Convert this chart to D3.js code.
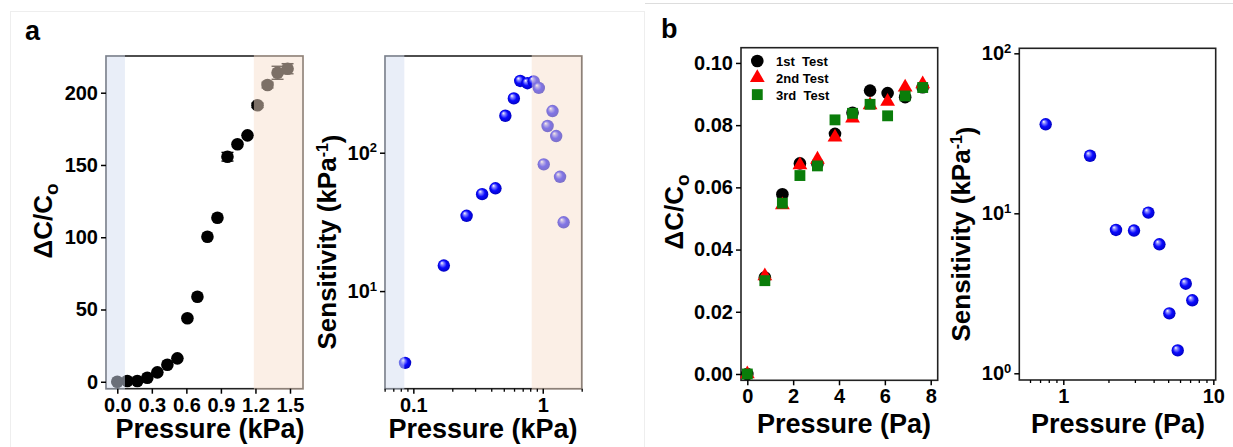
<!DOCTYPE html>
<html><head><meta charset="utf-8">
<script src="https://cdn.jsdelivr.net/npm/d3@7"></script>
<style>
body{margin:0;background:#fff;}
svg text{font-family:"Liberation Sans",Arial,sans-serif;font-weight:bold;fill:#000;}
</style></head><body>
<svg id="chart" width="1233" height="447"></svg>
<script>
// ---------- data ----------
const aPressure = [0,0.087,0.174,0.261,0.348,0.435,0.522,0.609,0.696,0.783,0.870,0.957,1.044,1.131,1.218,1.305,1.392,1.479];
const aResponse = [0,0.5,0.5,2.8,6.5,11.8,16.2,43.9,58.8,100.3,113.5,155.7,164.3,170.5,191.3,205.3,213.8,216.6];
const aError    = [0,0,0,0,0,0,0,0,0,0,0,3,0,0,1.5,2,4.5,3.5];
const aSensPressure = [0.0863,0.172,0.258,0.34,0.431,0.514,0.598,0.67,0.762,0.851,0.932,1.018,1.09,1.19,1.27,1.36,1.45];
const aSensitivity  = [3.03,15.3,35,50.2,55.3,185,247,330,318,328,294,82.4,156,200,132,67,31.4];
const bPressure = [0,0.765,1.53,2.295,3.06,3.825,4.59,5.355,6.12,6.885,7.65];
const bTest1 = [0,0.031,0.0578,0.0677,0.0675,0.0772,0.084,0.0911,0.0903,0.089,0.0922];
const bTest2 = [0,0.0315,0.0543,0.0672,0.069,0.0761,0.0822,0.0865,0.0876,0.0922,0.0932];
const bTest3 = [0,0.030,0.0549,0.0638,0.0669,0.0817,0.0838,0.0867,0.083,0.0894,0.0921];
const bSeriesNames = ["1st  Test","2nd Test","3rd  Test"];
const bSensPressure = [0.763,1.507,2.245,2.96,3.69,4.37,5.09,5.79,6.55,7.24];
const bSensitivity  = [36,22.9,7.87,7.8,10.1,6.4,2.37,1.39,3.63,2.86];
const aTicksX = [0,0.3,0.6,0.9,1.2,1.5];
const aTicksY = [0,50,100,150,200];
const aSensTicksX = [0.1,1];
const aSensMinorX = [0.06,0.07,0.08,0.09,0.2,0.3,0.4,0.5,0.6,0.7,0.8,0.9,2];
const aSensTicksY = [10,100];
const bTicksX = [0,2,4,6,8];
const bTicksY = [0,0.02,0.04,0.06,0.08,0.10];
const bSensTicksX = [1,10];
const bSensMinorX = [0.6,0.7,0.8,0.9,2,3,4,5,6,7,8,9];
const bSensTicksY = [1,10,100];
// shaded regions (in data units)
const aLowRegion = [-0.098,0.058], aHighRegion = [1.195,1.613];
const aSensLowRegion = [0.0604,0.0837], aSensHighRegion = [0.837,2.0];

// ---------- drawing ----------
const svg = d3.select("#chart");
svg.append("rect").attr("x",10.5).attr("y",11.5).attr("width",634).attr("height",440)
  .attr("fill","none").attr("stroke","#eeeeee");
svg.append("line").attr("x1",645).attr("x2",1233).attr("y1",3.5).attr("y2",3.5).attr("stroke","#dddddd");

const defs = svg.append("defs");
const grad = defs.append("radialGradient").attr("id","sphere").attr("cx","50%").attr("cy","50%").attr("r","55%")
  .attr("fx","33%").attr("fy","28%");
grad.append("stop").attr("offset","0%").attr("stop-color","#ffffff");
grad.append("stop").attr("offset","22%").attr("stop-color","#8a8aff");
grad.append("stop").attr("offset","55%").attr("stop-color","#0a0aff");
grad.append("stop").attr("offset","100%").attr("stop-color","#0000b8");

const TICKFONT = "20px";
function frame(g,x,y){
  const [x0,x1]=x.range(), [y0,y1]=y.range();
  g.append("rect").attr("x",x0).attr("y",y1).attr("width",x1-x0).attr("height",y0-y1)
    .attr("fill","none").attr("stroke","#222").attr("stroke-width",1.6);
}
function supFormat(sel){
  sel.each(function(d){
    const t=d3.select(this); const e=Math.round(Math.log10(d));
    t.text("10");
    t.append("tspan").attr("dy","-0.55em").attr("font-size","13px").text(e);
  });
}
function axes(g,x,y,o){
  const [x0,x1]=x.range(), [yb,yt]=y.range();
  const ax=d3.axisBottom(x).tickValues(o.xt).tickSize(5).tickPadding(4).tickFormat(o.xf);
  const gx=g.append("g").attr("transform",`translate(0,${yb})`).call(ax);
  if(o.xm){
    g.append("g").attr("transform",`translate(0,${yb})`).call(d3.axisBottom(x).tickValues(o.xm).tickSize(3).tickFormat(""))
      .call(s=>{s.select(".domain").remove();s.selectAll("line").attr("stroke","#000").attr("stroke-width",1.3);});
  }
  const ay=d3.axisLeft(y).tickValues(o.yt).tickSize(5).tickPadding(3).tickFormat(o.ylog?"":o.yf);
  const gy=g.append("g").attr("transform",`translate(${x0},0)`).call(ay);
  [gx,gy].forEach(s=>{
    s.select(".domain").remove();
    s.selectAll("line").attr("stroke","#000").attr("stroke-width",1.5);
    s.selectAll("text").attr("font-size",TICKFONT).attr("fill","#000");
  });
  if(o.ylog) gy.selectAll(".tick text").call(supFormat);
}
function xLabel(g,cx,by,txt){
  g.append("text").attr("x",cx).attr("y",by).attr("text-anchor","middle").attr("font-size","27px").text(txt);
}
function dcLabel(g,bx,cy){
  const t=g.append("text").attr("transform",`translate(${bx},${cy}) rotate(-90)`).attr("text-anchor","middle").attr("font-size","26px");
  t.append("tspan").text("\u0394C/C");
  t.append("tspan").attr("dy","0.3em").attr("font-size","19px").text("o");
}
function sensLabel(g,bx,cy){
  const t=g.append("text").attr("transform",`translate(${bx},${cy}) rotate(-90)`).attr("text-anchor","middle").attr("font-size","26px");
  t.append("tspan").text("Sensitivity (kPa");
  t.append("tspan").attr("dy","-0.5em").attr("font-size","16px").text("-1");
  t.append("tspan").attr("dy","0.5em").text(")");
}
function shade(g,x,y,r,color){
  const [yb,yt]=y.range();
  const a=x(r[0]), b=x(r[1]);
  g.append("rect").attr("x",Math.min(a,b)-1).attr("y",yt-1).attr("width",Math.abs(b-a)+2).attr("height",yb-yt+2)
    .attr("fill",color).attr("fill-opacity",0.5);
}

svg.append("text").attr("x",25).attr("y",40).attr("font-size","27px").text("a");
svg.append("text").attr("x",661).attr("y",38).attr("font-size","27px").text("b");

// ---- Panel a-left ----
{
  const g=svg.append("g");
  const x=d3.scaleLinear().domain([-0.098,1.613]).range([106,303]);
  const y=d3.scaleLinear().domain([-4.8,225.4]).range([388.7,56]);
  frame(g,x,y);
  const eb=g.append("g").attr("stroke","#000").attr("stroke-width",1.4);
  aPressure.forEach((p,i)=>{
    if(aError[i]>0){
      const cx=x(p), t=y(aResponse[i]+aError[i]), b=y(aResponse[i]-aError[i]);
      eb.append("line").attr("x1",cx).attr("x2",cx).attr("y1",t).attr("y2",b);
      eb.append("line").attr("x1",cx-6).attr("x2",cx+6).attr("y1",t).attr("y2",t);
      eb.append("line").attr("x1",cx-6).attr("x2",cx+6).attr("y1",b).attr("y2",b);
    }
  });
  g.selectAll("circle.pt").data(aPressure).join("circle").attr("class","pt")
    .attr("cx",d=>x(d)).attr("cy",(d,i)=>y(aResponse[i])).attr("r",6.3).attr("fill","#000");
  shade(g,x,y,aLowRegion,"rgb(211,221,241)");
  shade(g,x,y,aHighRegion,"rgb(247,224,206)");
  axes(g,x,y,{xt:aTicksX,xf:d3.format(".1f"),yt:aTicksY,yf:d3.format("d")});
  xLabel(g,210,438,"Pressure (kPa)");
  dcLabel(g,52,221);
}

// ---- Panel a-right ----
{
  const g=svg.append("g");
  const x=d3.scaleLog().domain([0.0604,2.0]).range([385,581.7]);
  const y=d3.scaleLog().domain([1.97,500]).range([388.7,56]);
  frame(g,x,y);
  g.selectAll("circle.pt").data(aSensPressure).join("circle").attr("class","pt")
    .attr("cx",d=>x(d)).attr("cy",(d,i)=>y(aSensitivity[i])).attr("r",6.2).attr("fill","url(#sphere)");
  shade(g,x,y,aSensLowRegion,"rgb(211,221,241)");
  shade(g,x,y,aSensHighRegion,"rgb(247,224,206)");
  axes(g,x,y,{xt:aSensTicksX,xm:aSensMinorX,xf:d=>d===1?"1":"0.1",yt:aSensTicksY,ylog:true});
  xLabel(g,483,438,"Pressure (kPa)");
  sensLabel(g,336,242);
}

// ---- Panel b-left ----
{
  const g=svg.append("g");
  const x=d3.scaleLinear().domain([-0.275,8.305]).range([741,937.7]);
  const y=d3.scaleLinear().domain([-0.00203,0.1049]).range([380.3,47.7]);
  frame(g,x,y);
  const circ=d3.symbol().type(d3.symbolCircle).size(125);
  const tri=d3.symbol().type(d3.symbolTriangle).size(95);
  const sq=d3.symbol().type(d3.symbolSquare).size(118);
  g.selectAll("path.t1").data(bPressure).join("path").attr("class","t1").attr("d",circ)
    .attr("transform",(d,i)=>`translate(${x(d)},${y(bTest1[i])})`).attr("fill","#000");
  g.selectAll("path.t2").data(bPressure).join("path").attr("class","t2").attr("d",tri)
    .attr("transform",(d,i)=>`translate(${x(d)},${y(bTest2[i])})`).attr("fill","#ff0000");
  g.selectAll("path.t3").data(bPressure).join("path").attr("class","t3").attr("d",sq)
    .attr("transform",(d,i)=>`translate(${x(d)},${y(bTest3[i])})`).attr("fill","#0a7d0a");
  const lg=g.append("g");
  const syms=[circ,tri,sq], cols=["#000","#ff0000","#0a7d0a"];
  bSeriesNames.forEach((n,i)=>{
    const yy=61+i*16.8;
    lg.append("path").attr("d",syms[i]).attr("transform",`translate(757.3,${yy})`).attr("fill",cols[i]);
    lg.append("text").attr("x",776).attr("y",yy+5).attr("font-size","13px").style("white-space","pre").text(n);
  });
  axes(g,x,y,{xt:bTicksX,xf:d3.format("d"),yt:bTicksY,yf:d3.format(".2f")});
  xLabel(g,844,433,"Pressure (Pa)");
  dcLabel(g,683,212);
}

// ---- Panel b-right ----
{
  const g=svg.append("g");
  const x=d3.scaleLog().domain([0.509,10.37]).range([1019.3,1215.7]);
  const y=d3.scaleLog().domain([0.908,107.5]).range([380,48.3]);
  frame(g,x,y);
  g.selectAll("circle.pt").data(bSensPressure).join("circle").attr("class","pt")
    .attr("cx",d=>x(d)).attr("cy",(d,i)=>y(bSensitivity[i])).attr("r",6.2).attr("fill","url(#sphere)");
  axes(g,x,y,{xt:bSensTicksX,xm:bSensMinorX,xf:d3.format("d"),yt:bSensTicksY,ylog:true});
  xLabel(g,1118,433,"Pressure (Pa)");
  sensLabel(g,970,234);
}
</script>
</body></html>
